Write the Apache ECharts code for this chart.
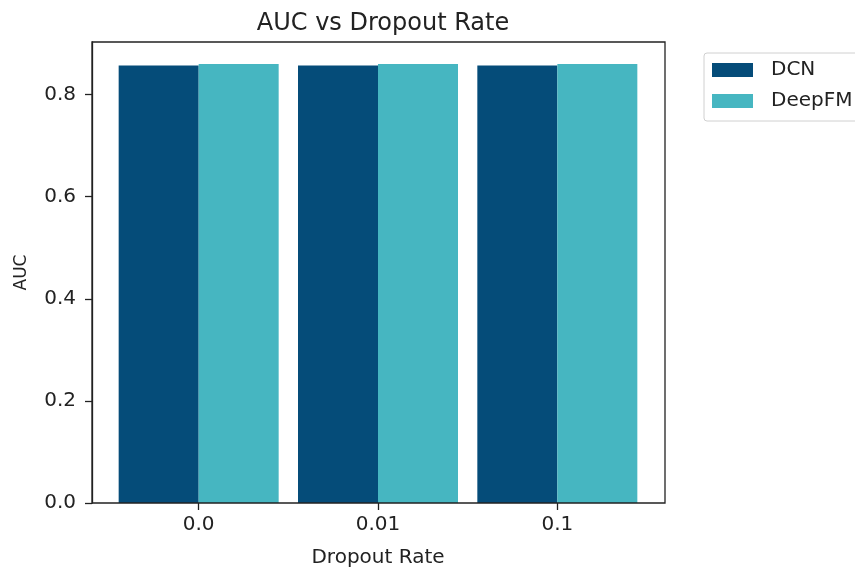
<!DOCTYPE html>
<html>
<head>
<meta charset="utf-8">
<script src="https://cdn.jsdelivr.net/npm/echarts@6/dist/echarts.min.js"></script>
<style>html,body{margin:0;padding:0;background:#fff;}#c{width:855px;height:567px;}</style>
</head>
<body>
<div id="c"></div>
<script>
const categories = ['0.0', '0.01', '0.1'];
const dcn = [0.857, 0.857, 0.857];
const deepfm = [0.860, 0.860, 0.860];
const yTicks = [0, 0.2, 0.4, 0.6, 0.8];
const yMax = 0.903;

const FONT = 'DejaVu Sans';
const chart = echarts.init(document.getElementById('c'));
chart.setOption({
  animation: false,
  backgroundColor: '#ffffff',
  textStyle: { fontFamily: FONT },
  title: {
    text: 'AUC vs Dropout Rate',
    left: 378, top: 7, textAlign: 'center',
    textStyle: { fontFamily: FONT, fontSize: 24, fontWeight: 'normal', color: '#222' }
  },
  legend: {
    orient: 'vertical', left: 704, top: 53,
    itemWidth: 41, itemHeight: 14, itemGap: 11,
    padding: [7, 15, 10, 8],
    borderColor: '#d0d0d0', borderWidth: 1, borderRadius: 3,
    icon: 'rect',
    textStyle: { fontFamily: FONT, fontSize: 20, color: '#222', padding: [0, 0, 0, 13] },
    data: ['DCN', 'DeepFM']
  },
  grid: [
    { left: 109, width: 538, top: 42, height: 461, containLabel: false, outerBoundsMode: 'none' },
    { left: 92, width: 573, top: 42, height: 461, containLabel: false, outerBoundsMode: 'none',
      show: true, borderColor: '#222', borderWidth: 1.3, backgroundColor: 'transparent', z: 10 }
  ],
  xAxis: [
    { type: 'category', gridIndex: 0, data: categories, boundaryGap: true,
      axisLine: { show: false },
      axisTick: { show: true, alignWithLabel: true, length: 7, lineStyle: { color: '#222', width: 1.3 } },
      axisLabel: { fontFamily: FONT, fontSize: 20, color: '#222', margin: 12 },
      name: 'Dropout Rate', nameLocation: 'middle', nameGap: 45,
      nameTextStyle: { fontFamily: FONT, fontSize: 20, color: '#222' }
    },
    { type: 'value', gridIndex: 1, show: false, min: 0, max: 1 }
  ],
  yAxis: [
    { type: 'value', gridIndex: 0, min: 0, max: yMax, show: false, splitLine: { show: false } },
    { type: 'value', gridIndex: 1, min: 0, max: yMax, interval: 0.2,
      axisLine: { show: true, lineStyle: { color: '#222', width: 1.3 } },
      axisTick: { show: true, length: 7, lineStyle: { color: '#222', width: 1.3 } },
      splitLine: { show: false },
      axisLabel: { fontFamily: FONT, fontSize: 20, color: '#222', margin: 16, showMaxLabel: false,
        formatter: v => yTicks.some(t => Math.abs(t - v) < 1e-9) ? v.toFixed(1) : '' },
      name: 'AUC', nameLocation: 'middle', nameGap: 62, nameRotate: 90,
      nameTextStyle: { fontFamily: FONT, fontSize: 17, color: '#222' }
    }
  ],
  series: [
    { name: 'DCN', type: 'bar', xAxisIndex: 0, yAxisIndex: 0, data: dcn, barWidth: 80, barGap: '0%',
      itemStyle: { color: '#054c79' } },
    { name: 'DeepFM', type: 'bar', xAxisIndex: 0, yAxisIndex: 0, data: deepfm, barWidth: 80, barGap: '0%',
      itemStyle: { color: '#46b6c1' } }
  ]
});
</script>
</body>
</html>
